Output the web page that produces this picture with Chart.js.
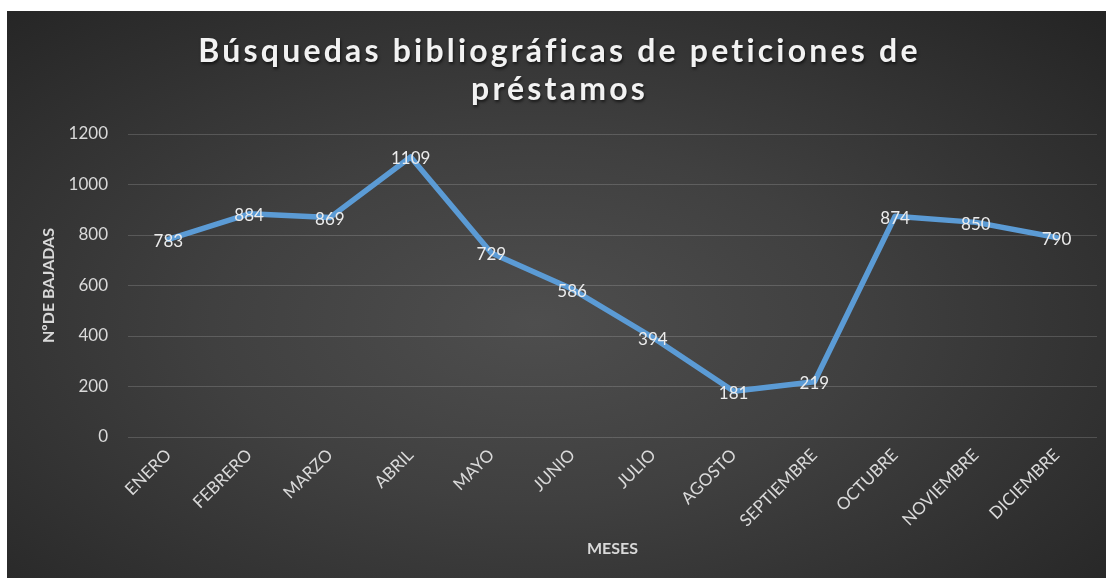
<!DOCTYPE html>
<html>
<head>
<meta charset="utf-8">
<script src="https://cdn.jsdelivr.net/npm/chart.js@4/dist/chart.umd.min.js"></script>
<style>
  html, body { margin: 0; padding: 0; background: #ffffff; }
  #wrap {
    position: absolute; left: 7px; top: 11px; width: 1099px; height: 567px;
    background: radial-gradient(ellipse farthest-corner at 48% 55%, #4e4e4e 0%, #404040 40%, #242424 100%);
  }
  canvas { display: block; }
</style>
</head>
<body>
<div id="wrap"><canvas id="c" width="1099" height="567"></canvas></div>
<script>
const titleLines = ["Búsquedas bibliográficas de peticiones de", "préstamos"];
const categories = ["ENERO", "FEBRERO", "MARZO", "ABRIL", "MAYO", "JUNIO", "JULIO", "AGOSTO", "SEPTIEMBRE", "OCTUBRE", "NOVIEMBRE", "DICIEMBRE"];
const bajadas = [783, 884, 869, 1109, 729, 586, 394, 181, 219, 874, 850, 790];
const yTicks = [0, 200, 400, 600, 800, 1000, 1200];
const yAxisTitle = "NºDE BAJADAS";
const xAxisTitle = "MESES";

const FONT = "Lato, 'Open Sans', sans-serif";

const titlePlugin = {
  id: 'spacedTitle',
  afterDraw(chart) {
    const ctx = chart.ctx;
    ctx.save();
    ctx.font = "bold 32px " + FONT;
    ctx.fillStyle = "#f2f2f2";
    ctx.textAlign = "center";
    ctx.textBaseline = "middle";
    try { ctx.letterSpacing = "3.2px"; } catch (e) {}
    ctx.shadowColor = "rgba(0,0,0,0.6)";
    ctx.shadowBlur = 3;
    ctx.shadowOffsetX = 1;
    ctx.shadowOffsetY = 2;
    const cx = chart.width / 2 + 3;
    titleLines.forEach((t, i) => ctx.fillText(t, cx, 41 + i * 38));
    ctx.restore();
  }
};

const labelPlugin = {
  id: 'pointLabels',
  afterDatasetsDraw(chart) {
    const ctx = chart.ctx;
    const meta = chart.getDatasetMeta(0);
    ctx.save();
    ctx.font = "17px " + FONT;
    ctx.fillStyle = "#ececec";
    ctx.textAlign = "center";
    ctx.textBaseline = "middle";
    meta.data.forEach((pt, i) => {
      ctx.fillText(String(chart.data.datasets[0].data[i]), pt.x, pt.y + 2);
    });
    ctx.restore();
  }
};

new Chart(document.getElementById('c'), {
  type: 'line',
  data: {
    labels: categories,
    datasets: [{
      data: bajadas,
      borderColor: '#5b9bd5',
      borderWidth: 5.5,
      pointRadius: 0,
      pointHoverRadius: 0,
      tension: 0,
      fill: false,
      borderCapStyle: 'round',
      borderJoinStyle: 'round'
    }]
  },
  options: {
    responsive: false,
    animation: false,
    events: [],
    layout: { autoPadding: false, padding: { top: 123, left: 28, right: 9, bottom: 16 } },
    plugins: { legend: { display: false }, tooltip: { enabled: false }, title: { display: false } },
    scales: {
      x: {
        offset: true,
        grid: { display: false, drawTicks: false, offset: true },
        border: { display: false },
        ticks: {
          autoSkip: false, minRotation: 45, maxRotation: 45, padding: 8,
          color: '#d9d9d9', font: { family: FONT, size: 17 }
        },
        title: { display: true, text: xAxisTitle, color: '#d9d9d9', font: { family: FONT, size: 16, weight: 'bold' } },
        afterFit(scale) { scale.height = 125; }
      },
      y: {
        min: 0, max: 1200,
        afterBuildTicks(scale) { scale.ticks = yTicks.map(v => ({ value: v })); },
        grid: { color: 'rgba(255,255,255,0.16)', lineWidth: 1, drawTicks: false },
        border: { display: false },
        ticks: { padding: 20, color: '#d9d9d9', font: { family: FONT, size: 17 }, callback: (v) => String(v) },
        title: { display: true, text: yAxisTitle, color: '#d9d9d9', font: { family: FONT, size: 16, weight: 'bold' } },
        afterFit(scale) { scale.width = 93; }
      }
    }
  },
  plugins: [titlePlugin, labelPlugin]
});
</script>
</body>
</html>
